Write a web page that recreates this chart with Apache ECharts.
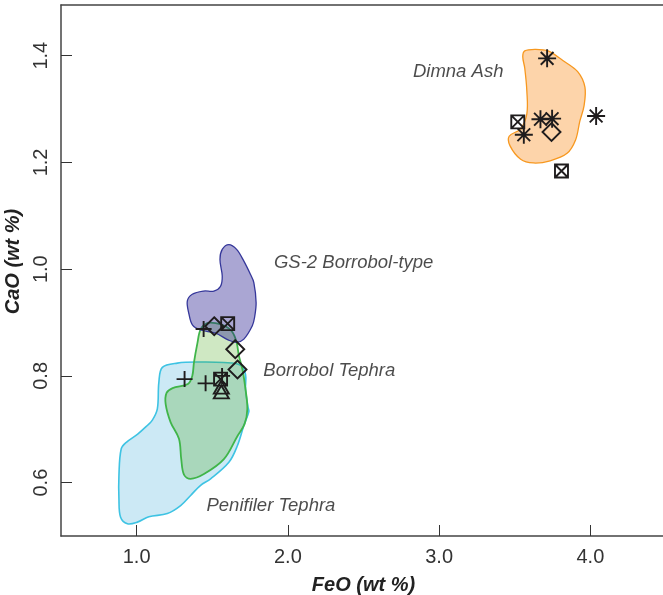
<!DOCTYPE html>
<html>
<head>
<meta charset="utf-8">
<script src="https://cdn.jsdelivr.net/npm/echarts@6/dist/echarts.min.js"></script>
<style>
  html, body { margin: 0; padding: 0; background: #fff; }
  #chart { width: 663px; height: 595px; }
</style>
</head>
<body>
<div id="chart"></div>
<script>
// FeO vs CaO (wt %) of glass shards, with compositional envelopes of reference tephras

const xTicks = [1, 2, 3, 4];
const yTicks = [0.6, 0.8, 1.0, 1.2, 1.4];

// Envelope outlines, [FeO, CaO]
const penifilerEnvelope = [
  [1.170, 0.816], [1.269, 0.824], [1.423, 0.826], [1.577, 0.825], [1.687, 0.820],
  [1.720, 0.803], [1.720, 0.775], [1.736, 0.742], [1.742, 0.733], [1.709, 0.707],
  [1.666, 0.669], [1.610, 0.638], [1.489, 0.607], [1.423, 0.595], [1.357, 0.576],
  [1.291, 0.557], [1.203, 0.542], [1.081, 0.536], [1.005, 0.526], [0.939, 0.523],
  [0.894, 0.535], [0.883, 0.570], [0.883, 0.613], [0.898, 0.663], [0.934, 0.676],
  [1.007, 0.691], [1.066, 0.706], [1.104, 0.717], [1.137, 0.738], [1.147, 0.788]
];
const borrobolEnvelope = [
  [1.423, 0.887], [1.467, 0.899], [1.522, 0.899], [1.588, 0.893], [1.634, 0.882],
  [1.661, 0.863], [1.676, 0.838], [1.699, 0.813], [1.720, 0.775], [1.732, 0.738],
  [1.714, 0.710], [1.666, 0.687], [1.577, 0.644], [1.445, 0.616], [1.357, 0.607],
  [1.313, 0.615], [1.295, 0.644], [1.280, 0.682], [1.225, 0.713], [1.192, 0.747],
  [1.198, 0.768], [1.238, 0.777], [1.339, 0.785], [1.368, 0.800], [1.379, 0.825],
  [1.401, 0.860]
];
const gs2Envelope = [
  [1.610, 1.046], [1.661, 1.037], [1.709, 1.015], [1.753, 0.990], [1.775, 0.975],
  [1.790, 0.937], [1.780, 0.910], [1.765, 0.894], [1.709, 0.869], [1.661, 0.863],
  [1.608, 0.867], [1.522, 0.880], [1.423, 0.886], [1.370, 0.895], [1.346, 0.916],
  [1.335, 0.940], [1.368, 0.953], [1.443, 0.959], [1.511, 0.959], [1.555, 0.968],
  [1.566, 0.987], [1.551, 1.018], [1.566, 1.037]
];
const dimnaEnvelope = [
  [3.566, 1.409], [3.636, 1.412], [3.720, 1.409], [3.818, 1.391], [3.916, 1.370],
  [3.964, 1.341], [3.958, 1.306], [3.930, 1.277], [3.902, 1.242], [3.846, 1.217],
  [3.734, 1.203], [3.623, 1.199], [3.539, 1.206], [3.469, 1.231], [3.463, 1.249],
  [3.539, 1.263], [3.580, 1.291], [3.580, 1.334], [3.566, 1.377], [3.553, 1.398]
];

// Sample analyses, [FeO, CaO]
const asteriskPoints = [[3.714, 1.395], [3.670, 1.281], [3.747, 1.282], [3.560, 1.252], [4.038, 1.287]];
const boxedCrossPoints = [[3.520, 1.276], [3.809, 1.184], [1.602, 0.898], [1.555, 0.794]];
const diamondPoints = [[3.743, 1.257], [1.513, 0.893], [1.652, 0.850], [1.667, 0.812]];
const plusPoints = [[1.443, 0.888], [1.317, 0.794], [1.456, 0.786], [1.565, 0.800]];
const trianglePoints = [[1.560, 0.779], [1.560, 0.770]];

// Envelope names and where they are written
const fieldNames = ['Dimna Ash', 'GS-2 Borrobol-type', 'Borrobol Tephra', 'Penifiler Tephra'];
const fieldLabelAt = [[3.126, 1.3695], [2.435, 1.0127], [2.274, 0.810], [1.888, 0.556]];

const FONT = '"Liberation Sans", Arial, Helvetica, sans-serif';
const INK = '#1f1c1d';

function envelope(name, pts, fill, stroke, width) {
  return {
    type: 'custom',
    name: name,
    silent: true,
    data: pts,
    encode: { x: 0, y: 1 },
    renderItem: function (params, api) {
      if (params.dataIndex !== 0) return null;
      return {
        type: 'polygon',
        shape: { points: pts.map(function (p) { return api.coord(p); }), smooth: 0.35 },
        style: { fill: fill, stroke: stroke, lineWidth: width }
      };
    }
  };
}

function markers(name, pts, symbol, size) {
  return {
    type: 'scatter',
    name: name,
    silent: true,
    data: pts,
    symbol: symbol,
    symbolSize: size,
    z: 5,
    itemStyle: { color: 'rgba(0,0,0,0)', borderColor: INK, borderWidth: 1.9, opacity: 1 }
  };
}

const SYM_ASTERISK = 'path://M0,5L10,5M5,0L5,10M1.46,1.46L8.54,8.54M1.46,8.54L8.54,1.46';
const SYM_BOXCROSS = 'path://M0,0L10,0L10,10L0,10ZM0,0L10,10M0,10L10,0';
const SYM_DIAMOND = 'path://M5,0L10,5L5,10L0,5Z';
const SYM_PLUS = 'path://M0,5L10,5M5,0L5,10';
const SYM_TRIANGLE = 'path://M5,0L10,9L0,9Z';

const axisLineStyle = { color: '#444', width: 1.5 };

const chart = echarts.init(document.getElementById('chart'), null, { renderer: 'canvas' });
chart.setOption({
  animation: false,
  backgroundColor: '#fff',
  grid: { left: 61, top: 5, bottom: 59, right: -3, containLabel: false, outerBoundsMode: 'none' },
  xAxis: [{
    type: 'value', min: 0.5, max: 4.5, position: 'bottom',
    name: 'FeO (wt %)', nameLocation: 'middle', nameGap: 39,
    nameTextStyle: { fontFamily: FONT, fontSize: 20, fontWeight: 'bold', fontStyle: 'italic', color: '#222' },
    axisLine: { show: true, onZero: false, lineStyle: axisLineStyle },
    axisTick: { show: true, inside: true, length: 11, customValues: xTicks, lineStyle: { color: '#333', width: 1 } },
    axisLabel: { customValues: xTicks, formatter: function (v) { return v.toFixed(1); },
      fontFamily: FONT, fontSize: 20, color: '#333', margin: 11 },
    splitLine: { show: false }
  }, {
    type: 'value', min: 0.5, max: 4.5, position: 'top',
    axisLine: { show: true, onZero: false, lineStyle: axisLineStyle },
    axisTick: { show: false }, axisLabel: { show: false }, splitLine: { show: false }
  }],
  yAxis: {
    type: 'value', min: 0.5, max: 1.495,
    name: 'CaO (wt %)', nameLocation: 'middle', nameGap: 37,
    nameTextStyle: { fontFamily: FONT, fontSize: 20, fontWeight: 'bold', fontStyle: 'italic', color: '#222',
      padding: [0, 0, 0, 18] },
    axisLine: { show: true, onZero: false, lineStyle: axisLineStyle },
    axisTick: { show: true, inside: true, length: 11, customValues: yTicks, lineStyle: { color: '#333', width: 1 } },
    axisLabel: { customValues: yTicks, rotate: 90, formatter: function (v) { return v.toFixed(1); },
      fontFamily: FONT, fontSize: 20, color: '#333', margin: 10 },
    splitLine: { show: false }
  },
  series: [
    // translucent fills so that overlapping envelopes darken where they meet
    envelope('Penifiler Tephra', penifilerEnvelope, '#cce9f5', '#3ec3e3', 1.6),
    envelope('Borrobol Tephra', borrobolEnvelope, 'rgba(63,163,15,0.25)', '#40b549', 1.8),
    envelope('GS-2 Borrobol-type', gs2Envelope, 'rgba(43,33,145,0.4)', '#35379a', 1.3),
    envelope('Dimna Ash', dimnaEnvelope, '#fdd4aa', '#f7981f', 1.3),
    markers('asterisk', asteriskPoints, SYM_ASTERISK, 18),
    markers('boxed cross', boxedCrossPoints, SYM_BOXCROSS, 13),
    markers('diamond', diamondPoints, SYM_DIAMOND, 18),
    markers('plus', plusPoints, SYM_PLUS, 16),
    markers('triangle', trianglePoints, SYM_TRIANGLE, [15, 13]),
    {
      type: 'scatter',
      name: 'field names',
      silent: true,
      symbolSize: 0,
      z: 6,
      data: fieldLabelAt.map(function (p, i) { return { name: fieldNames[i], value: p }; }),
      label: {
        show: true, position: 'inside', formatter: '{b}',
        fontFamily: FONT, fontSize: 18.5, fontStyle: 'italic', color: '#1e1e1e',
        textBorderWidth: 0
      }
    }
  ]
});
</script>
</body>
</html>
